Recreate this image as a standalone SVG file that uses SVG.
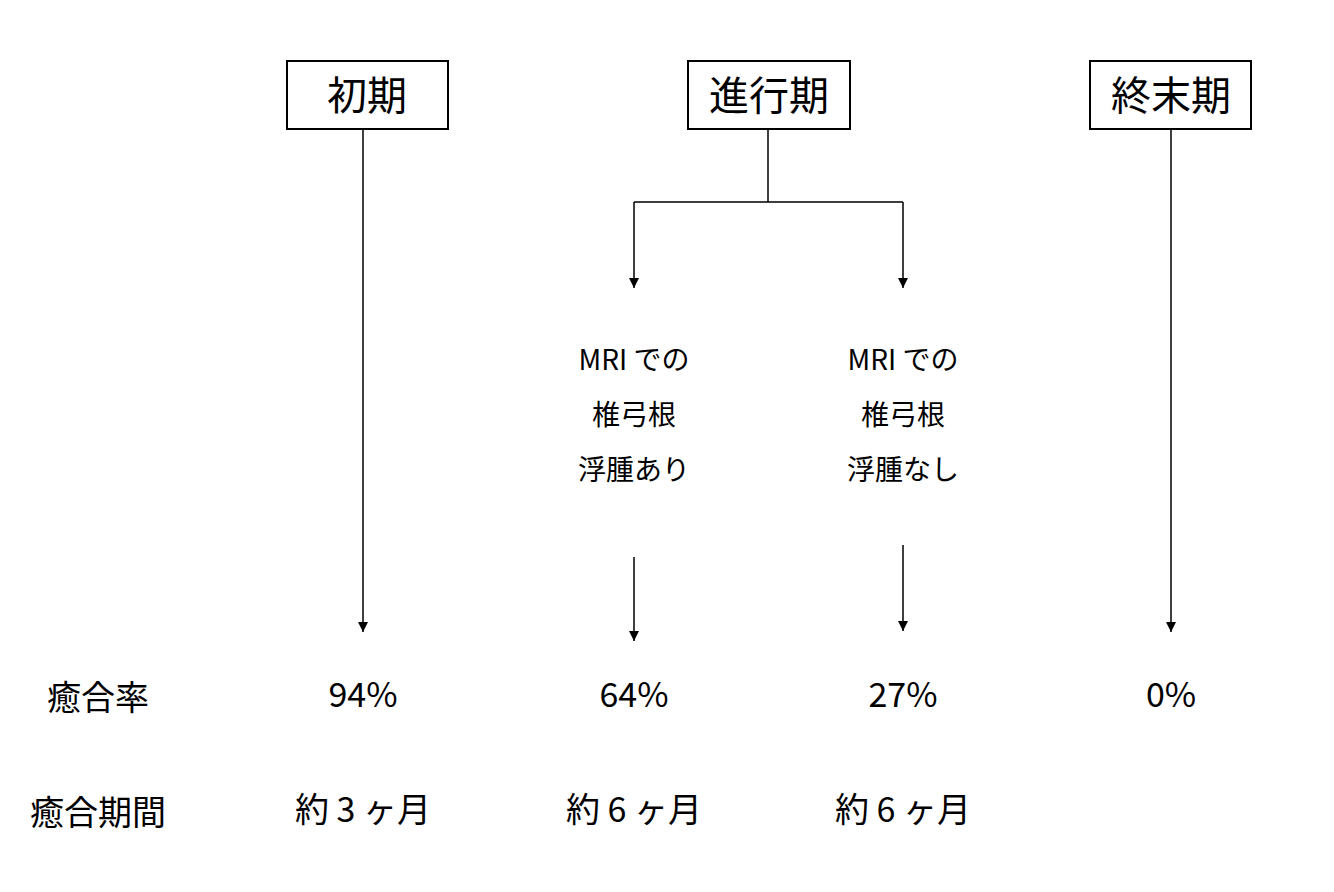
<svg xmlns="http://www.w3.org/2000/svg" width="1334" height="892" viewBox="0 0 1334 892">
<style>
text{font-family:"Noto Sans CJK JP","Noto Sans",sans-serif;fill:#000;text-anchor:middle}
.box{fill:#fff;stroke:#000;stroke-width:2}
.t{font-size:40px}
.m{font-size:28px}
.l{font-size:34px}
.c{stroke:#000;stroke-width:1.5;fill:none}
</style>
<defs><marker id="a" viewBox="0 0 10 10" refX="10" refY="5" markerWidth="10" markerHeight="10" markerUnits="userSpaceOnUse" orient="auto"><path d="M0,0L10,5L0,10z" fill="#000"/></marker>
</defs>
<rect width="1334" height="892" fill="#fff"/>
<g id="n1"><rect class="box" x="287" y="61" width="161" height="68"/><text class="t" x="367" y="110">初期</text></g>
<g id="n2"><rect class="box" x="688" y="61" width="162" height="68"/><text class="t" x="769" y="110">進行期</text></g>
<g id="n3"><rect class="box" x="1090" y="61" width="161" height="68"/><text class="t" x="1171" y="110">終末期</text></g>
<g id="n4"><text class="m" x="634" y="370">MRI での</text><text class="m" x="634" y="425">椎弓根</text><text class="m" x="634" y="480">浮腫あり</text></g>
<g id="n5"><text class="m" x="903" y="370">MRI での</text><text class="m" x="903" y="425">椎弓根</text><text class="m" x="903" y="480">浮腫なし</text></g>
<g id="labels" class="l">
<text class="l" x="98" y="710">癒合率</text>
<text class="l" x="363" y="707">94%</text>
<text class="l" x="634" y="707">64%</text>
<text class="l" x="903" y="707">27%</text>
<text class="l" x="1171" y="707">0%</text>
<text class="l" x="98" y="825">癒合期間</text>
<text class="l" x="363" y="822">約 3 ヶ月</text>
<text class="l" x="634" y="822">約 6 ヶ月</text>
<text class="l" x="903" y="822">約 6 ヶ月</text>
</g>
<g id="connectors">
<path class="c" d="M363,129V632" marker-end="url(#a)"/>
<path class="c" d="M1171,129V632" marker-end="url(#a)"/>
<path class="c" d="M768,129V202M634,202H903"/>
<path class="c" d="M634,202V288" marker-end="url(#a)"/>
<path class="c" d="M903,202V288" marker-end="url(#a)"/>
<path class="c" d="M634,557V641" marker-end="url(#a)"/>
<path class="c" d="M903,545V631" marker-end="url(#a)"/>
</g>
</svg>
